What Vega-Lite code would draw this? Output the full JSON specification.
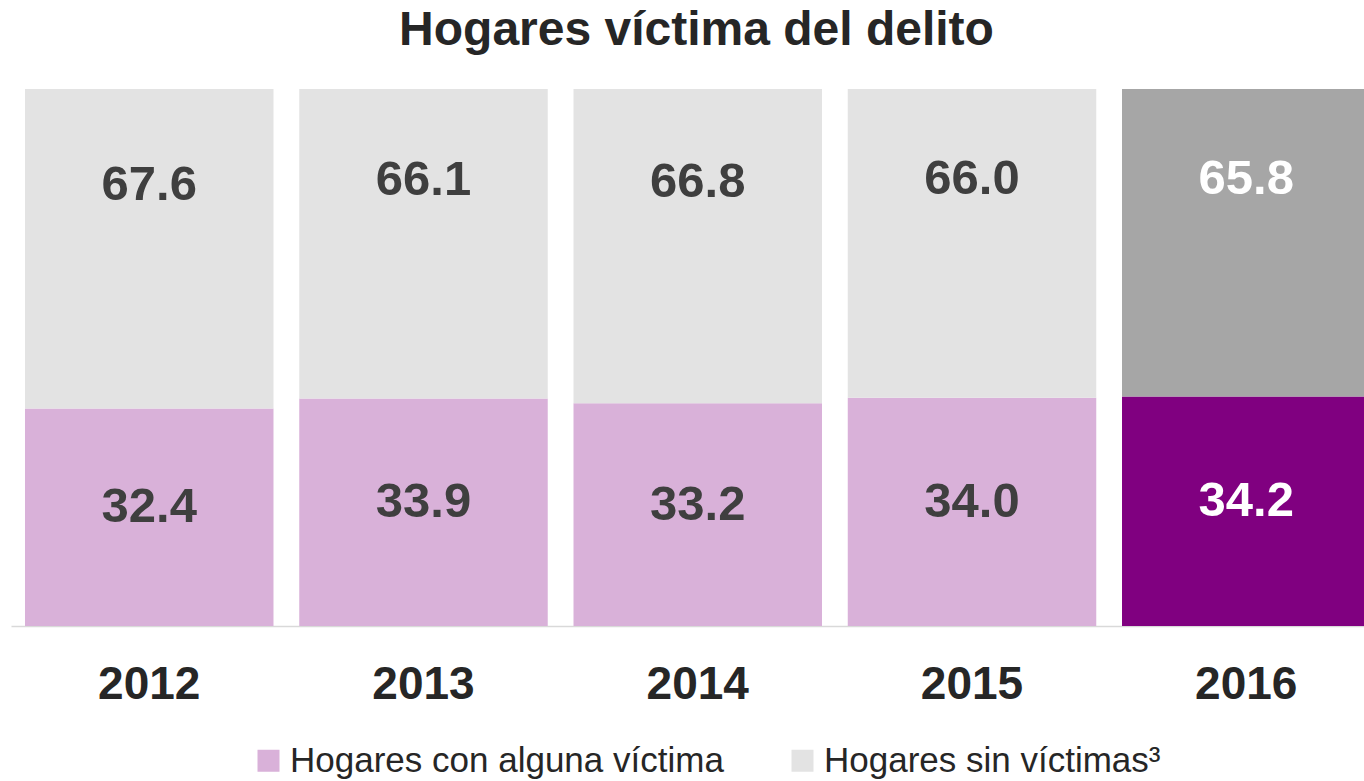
{
  "$schema": "https://vega.github.io/schema/vega-lite/v6.json",
  "autosize": "none",
  "width": 1353,
  "height": 537,
  "padding": {"left": 11, "top": 89, "right": 0, "bottom": 155},
  "background": "white",
  "title": {
    "text": "Hogares víctima del delito",
    "font": "Liberation Sans",
    "fontSize": 48,
    "fontWeight": "bold",
    "color": "#262626",
    "anchor": "middle",
    "dx": 9,
    "offset": 34
  },
  "data": {
    "values": [
      {"anio": "2012", "categoria": "Hogares con alguna víctima", "valor": 32.4},
      {"anio": "2012", "categoria": "Hogares sin víctimas³", "valor": 67.6},
      {"anio": "2013", "categoria": "Hogares con alguna víctima", "valor": 33.9},
      {"anio": "2013", "categoria": "Hogares sin víctimas³", "valor": 66.1},
      {"anio": "2014", "categoria": "Hogares con alguna víctima", "valor": 33.2},
      {"anio": "2014", "categoria": "Hogares sin víctimas³", "valor": 66.8},
      {"anio": "2015", "categoria": "Hogares con alguna víctima", "valor": 34.0},
      {"anio": "2015", "categoria": "Hogares sin víctimas³", "valor": 66.0},
      {"anio": "2016", "categoria": "Hogares con alguna víctima", "valor": 34.2},
      {"anio": "2016", "categoria": "Hogares sin víctimas³", "valor": 65.8}
    ]
  },
  "transform": [
    {"stack": "valor", "groupby": ["anio"], "sort": [{"field": "categoria", "order": "ascending"}], "as": ["v0", "v1"]},
    {"calculate": "(datum.v0 + datum.v1) / 2", "as": "vmid"}
  ],
  "encoding": {
    "x": {
      "field": "anio",
      "type": "nominal",
      "scale": {"range": [0, 1373.5], "paddingInner": 0.0939, "paddingOuter": 0.051},
      "axis": {
        "title": null,
        "labelAngle": 0,
        "ticks": false,
        "tickSize": 0,
        "domainColor": "#D9D9D9",
        "domainWidth": 1.5,
        "labelFont": "Liberation Sans",
        "labelFontSize": 46,
        "labelFontWeight": "bold",
        "labelColor": "#262626",
        "labelBaseline": "middle",
        "labelPadding": 58,
        "grid": false
      }
    }
  },
  "layer": [
    {
      "mark": {"type": "bar", "clip": true},
      "encoding": {
        "y": {"field": "v0", "type": "quantitative", "scale": {"domain": [0, 80], "nice": false, "zero": true}, "axis": null},
        "y2": {"field": "v1"},
        "color": {
          "field": "categoria",
          "type": "nominal",
          "scale": {"domain": ["Hogares con alguna víctima", "Hogares sin víctimas³"], "range": ["#D9B1D9", "#E3E3E3"]},
          "condition": [
            {"test": "datum.anio === '2016' && datum.categoria === 'Hogares con alguna víctima'", "value": "#800080"},
            {"test": "datum.anio === '2016'", "value": "#A6A6A6"}
          ],
          "legend": {
            "orient": "none",
            "legendX": 240,
            "legendY": 654,
            "direction": "horizontal",
            "title": null,
            "symbolType": "square",
            "symbolSize": 484,
            "symbolStrokeWidth": 0,
            "symbolOpacity": 1,
            "labelFont": "Liberation Sans",
            "labelFontSize": 35,
            "labelColor": "#262626",
            "labelOffset": 4,
            "labelLimit": 800,
            "columnPadding": 61
          }
        }
      }
    },
    {
      "transform": [{"filter": "datum.categoria === 'Hogares con alguna víctima'"}],
      "mark": {"type": "text", "font": "Liberation Sans", "fontSize": 49, "fontWeight": "bold", "baseline": "middle", "align": "center", "dy": -10},
      "encoding": {
        "y": {"field": "vmid", "type": "quantitative"},
        "text": {"field": "valor", "type": "quantitative", "format": ".1f"},
        "color": {"condition": {"test": "datum.anio === '2016'", "value": "#FFFFFF"}, "value": "#3F3F3F"}
      }
    },
    {
      "transform": [{"filter": "datum.categoria !== 'Hogares con alguna víctima'"}],
      "mark": {"type": "text", "font": "Liberation Sans", "fontSize": 49, "fontWeight": "bold", "baseline": "middle", "align": "center", "dy": 3},
      "encoding": {
        "y": {"field": "vmid", "type": "quantitative"},
        "text": {"field": "valor", "type": "quantitative", "format": ".1f"},
        "color": {"condition": {"test": "datum.anio === '2016'", "value": "#FFFFFF"}, "value": "#3F3F3F"}
      }
    }
  ],
  "config": {"view": {"stroke": null}}
}
